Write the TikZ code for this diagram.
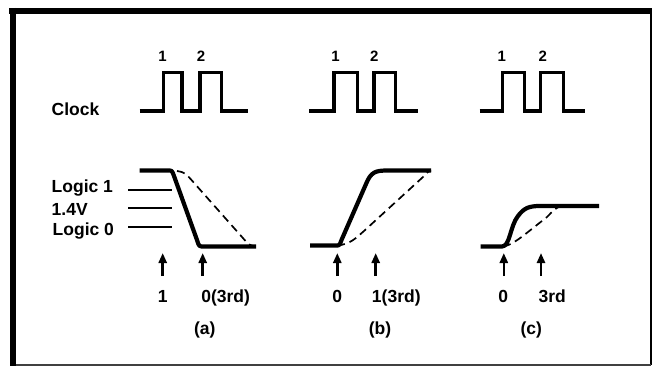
\documentclass[tikz,border=0pt]{standalone}
\usepackage{fontspec}
\setmainfont{Liberation Sans}
\usetikzlibrary{arrows.meta}
\begin{document}
\begin{tikzpicture}[x=1pt,y=-1pt,
  lbl/.style={font=\fontsize{17.5}{20}\selectfont\bfseries, inner sep=0pt},
  num/.style={font=\fontsize{15}{17}\selectfont\bfseries, inner sep=0pt, anchor=base},
  clk/.style={line width=3.4pt, line join=miter},
  wave/.style={line width=4.2pt, line join=round},
  dsh/.style={line width=1.7pt, dash pattern=on 8pt off 5pt},
  lvl/.style={line width=1.8pt},
  uparrow/.style={line width=2.5pt, -{Triangle[length=10pt,width=8pt]}}]
\useasboundingbox (0,0) rectangle (653,366);
% frame
\draw[line width=6pt] (9,11) -- (652,11);
\draw[line width=6pt] (13,8) -- (13,366);
\draw[line width=1.6pt] (651,11) -- (651,365);
\draw[line width=1.3pt, black!75] (16,365) -- (651,365);

% clock label
\node[lbl, anchor=base west] (clock) at (51.5,116) {Clock};

% clock waveforms
\draw[clk] (139.5,111) -- (163.5,111) -- (163.5,72.5) -- (182,72.5) -- (182,111) -- (200,111) -- (200,72.5) -- (221.5,72.5) -- (221.5,111) -- (248,111);
\draw[clk] (309,111) -- (334,111) -- (334,72.5) -- (357.5,72.5) -- (357.5,111) -- (374,111) -- (374,72.5) -- (395.5,72.5) -- (395.5,111) -- (418,111);
\draw[clk] (479.5,111) -- (502.7,111) -- (502.7,72.5) -- (524.3,72.5) -- (524.3,111) -- (540.5,111) -- (540.5,72.5) -- (563.3,72.5) -- (563.3,111) -- (585,111);

\node[num] (a1) at (162.6,62) {1};
\node[num] (a2) at (201,62) {2};
\node[num] (b1) at (335.6,62) {1};
\node[num] (b2) at (374.3,62) {2};
\node[num] (c1) at (501.7,62) {1};
\node[num] (c2) at (542.7,62) {2};

% level labels and lines
\node[lbl, anchor=base west] (l1) at (51.5,193) {Logic 1};
\node[lbl, anchor=base west] (l14) at (51.5,215) {1.4V};
\node[lbl, anchor=base west] (l0) at (52.5,235) {Logic 0};
\draw[lvl] (128,190) -- (172,190);
\draw[lvl] (128,208.3) -- (172,208.3);
\draw[lvl] (128,227.3) -- (172,227.3);

% (a) waveforms
\draw[wave] (139.5,170.5) -- (168,170.5) .. controls (172,170.5) .. (174,176) -- (197,240) .. controls (199,246.5) .. (204,246.5) -- (256,246.5);
\draw[dsh] (177,171) .. controls (185,172.5) .. (195,184) -- (242,237) .. controls (249,245) .. (255,246.5);

% (b) waveforms
\draw[wave] (310,245.5) -- (336,245.5) .. controls (339.5,245.5) .. (341.5,240) -- (366,184) .. controls (371,172) and (375,170.5) .. (388,170.5) -- (431,170.5);
\draw[dsh] (337,245.5) .. controls (350,244.5) and (356,238) .. (364,231) -- (423,177) .. controls (426,173) .. (431,170.5);

% (c) waveforms
\draw[wave] (480.5,246.5) -- (502,246.5) .. controls (510,246.5) and (510,226) .. (518,216) .. controls (524,208) and (529,206) .. (540,206) -- (599,206);
\draw[dsh] (503,246.5) .. controls (510,245.5) and (518,240) .. (528,232) -- (547,217) .. controls (553,211) and (556,207) .. (562,206);

% arrows
\draw[uparrow] (162.7,276) -- (162.7,253);
\draw[uparrow] (202.7,276) -- (202.7,253);
\draw[uparrow] (337.3,276) -- (337.3,253);
\draw[uparrow] (375.7,276) -- (375.7,253);
\draw[uparrow] (503.8,276) -- (503.8,253);
\draw[uparrow] (541,276) -- (541,253);

% arrow labels
\node[lbl, anchor=base] (ta1) at (162.7,302.7) {1};
\node[lbl, anchor=base] (ta2) at (225.7,302.7) {0(3rd)};
\node[lbl, anchor=base] (tb1) at (337.3,302.7) {0};
\node[lbl, anchor=base] (tb2) at (396.3,302.7) {1(3rd)};
\node[lbl, anchor=base] (tc1) at (503.3,302.7) {0};
\node[lbl, anchor=base] (tc2) at (552.2,302.7) {3rd};

% captions
\node[lbl, anchor=base] (capa) at (204.7,334) {(a)};
\node[lbl, anchor=base] (capb) at (380,334) {(b)};
\node[lbl, anchor=base] (capc) at (531.2,334) {(c)};
\end{tikzpicture}
\end{document}
